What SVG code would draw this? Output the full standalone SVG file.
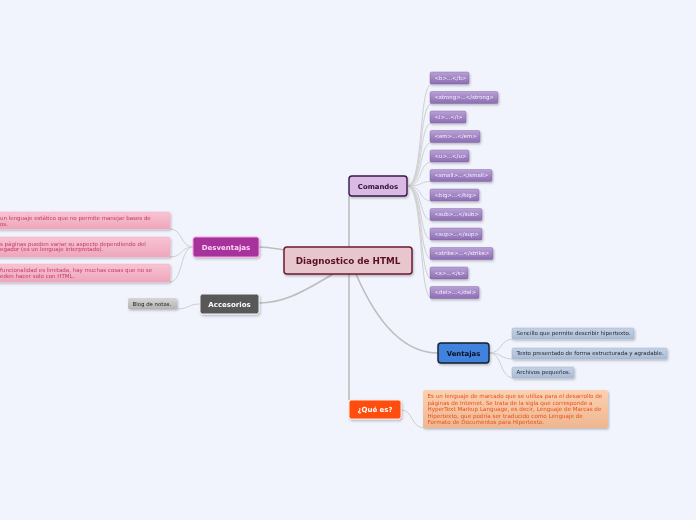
<svg xmlns="http://www.w3.org/2000/svg" width="696" height="520" viewBox="0 0 696 520">
<defs>
<style>
.bg{fill:#f2f4fd}
.con{fill:none;stroke:#bdbdbd;stroke-width:1.6}
.sub{fill:none;stroke:#cfcfcf;stroke-width:1}
.t{font-family:"DejaVu Sans",Verdana,sans-serif}
.b{font-weight:bold}
.tag{fill:url(#gTag);stroke:#7a5c9e;stroke-width:0.4}
.tagt{font-family:"DejaVu Sans",Verdana,sans-serif;font-size:5.4px;fill:#f6f0ff}
.pink{fill:url(#gPink);stroke:#f4a8bd;stroke-width:0.5}
.pinkt{font-family:"DejaVu Sans",Verdana,sans-serif;font-size:5.5px;fill:#c4386a}
.blue{fill:url(#gBlue);stroke:#9fb2cc;stroke-width:0.5}
.bluet{font-family:"DejaVu Sans",Verdana,sans-serif;font-size:5.5px;fill:#2a2a30}
</style>
<linearGradient id="gTag" x1="0" y1="0" x2="0" y2="1"><stop offset="0" stop-color="#b9a0d6"/><stop offset="1" stop-color="#8d6db3"/></linearGradient>
<linearGradient id="gPink" x1="0" y1="0" x2="0" y2="1"><stop offset="0" stop-color="#f7c4d2"/><stop offset="1" stop-color="#eea6bc"/></linearGradient>
<linearGradient id="gBlue" x1="0" y1="0" x2="0" y2="1"><stop offset="0" stop-color="#c4d2e4"/><stop offset="1" stop-color="#a9bcd6"/></linearGradient>
<linearGradient id="gPeach" x1="0" y1="0" x2="0" y2="1"><stop offset="0" stop-color="#fad2b2"/><stop offset="1" stop-color="#efb690"/></linearGradient>
<linearGradient id="gGray" x1="0" y1="0" x2="0" y2="1"><stop offset="0" stop-color="#d6d6d6"/><stop offset="1" stop-color="#b4b4b4"/></linearGradient>
<filter id="sh" x="-10%" y="-20%" width="130%" height="160%"><feDropShadow dx="1" dy="1.5" stdDeviation="0.8" flood-color="#000" flood-opacity="0.25"/></filter>
</defs>
<rect class="bg" x="0" y="0" width="696" height="520"/>

<g id="connectors">
<path class="con" d="M349,196 L349,247"/>
<path class="con" d="M349,274 L349,400"/>
<path class="con" d="M284,250 C272,248 268,247 259,247"/>
<path class="con" d="M333,274 C300,294 282,303 259,303"/>
<path class="con" d="M356,274 C378,325 405,353 438,353"/>
<path class="sub" d="M407,186 C424,186 418,84 432,84"/>
<path class="sub" d="M407,186 C424,186 418,103.5 432,103.5"/>
<path class="sub" d="M407,186 C424,186 418,123 432,123"/>
<path class="sub" d="M407,186 C424,186 418,142.5 432,142.5"/>
<path class="sub" d="M407,186 C424,186 418,162 432,162"/>
<path class="sub" d="M407,186 C424,186 418,181.5 432,181.5"/>
<path class="sub" d="M407,186 C424,186 418,201 432,201"/>
<path class="sub" d="M407,186 C424,186 418,220.5 432,220.5"/>
<path class="sub" d="M407,186 C424,186 418,240 432,240"/>
<path class="sub" d="M407,186 C424,186 418,259.5 432,259.5"/>
<path class="sub" d="M407,186 C424,186 418,279 432,279"/>
<path class="sub" d="M407,186 C424,186 418,298.5 432,298.5"/>
<path class="sub" d="M489,353 C503,353 499,339 514,339"/>
<path class="sub" d="M489,353 C503,353 499,359 514,359"/>
<path class="sub" d="M489,353 C503,353 499,378 514,378"/>
<path class="sub" d="M193,247 C180,247 183,229 170,229"/>
<path class="sub" d="M193,247 C180,247 183,257 170,257"/>
<path class="sub" d="M193,247 C180,247 183,282 170,282"/>
<path class="sub" d="M200,304 C188,304 189,309 177,309"/>
<path class="sub" d="M401,410 C414,410 410,428 425,428"/>
</g>

<g id="central" filter="url(#sh)">
<rect x="284" y="247" width="128" height="27" rx="3" fill="#e8c6cd" stroke="#6e1a30" stroke-width="1.5"/>
<text class="t b" x="348" y="264.2" font-size="8.8" text-anchor="middle" fill="#5a1028">Diagnostico de HTML</text>
</g>

<g id="comandos" filter="url(#sh)">
<rect x="349" y="176" width="58" height="20" rx="3" fill="#dbb9e5" stroke="#3a1848" stroke-width="1.4"/>
<text class="t b" x="378" y="188.6" font-size="6.9" text-anchor="middle" fill="#2a1030">Comandos</text>
</g>

<g id="tags" filter="url(#sh)">
<g id="tag-b"><rect class="tag" x="430" y="72" width="39" height="12" rx="1.5"/><text class="tagt" x="434.5" y="79.8">&lt;b&gt;...&lt;/b&gt;</text></g>
<g id="tag-strong"><rect class="tag" x="430" y="91.5" width="68" height="12" rx="1.5"/><text class="tagt" x="434.5" y="99.3">&lt;strong&gt;...&lt;/strong&gt;</text></g>
<g id="tag-i"><rect class="tag" x="430" y="111" width="36" height="12" rx="1.5"/><text class="tagt" x="434.5" y="118.8">&lt;i&gt;...&lt;/i&gt;</text></g>
<g id="tag-em"><rect class="tag" x="430" y="130.5" width="50" height="12" rx="1.5"/><text class="tagt" x="434.5" y="138.3">&lt;em&gt;...&lt;/em&gt;</text></g>
<g id="tag-u"><rect class="tag" x="430" y="150" width="39" height="12" rx="1.5"/><text class="tagt" x="434.5" y="157.8">&lt;u&gt;...&lt;/u&gt;</text></g>
<g id="tag-small"><rect class="tag" x="430" y="169.5" width="62" height="12" rx="1.5"/><text class="tagt" x="434.5" y="177.3">&lt;small&gt;...&lt;/small&gt;</text></g>
<g id="tag-big"><rect class="tag" x="430" y="189" width="49" height="12" rx="1.5"/><text class="tagt" x="434.5" y="196.8">&lt;big&gt;...&lt;/big&gt;</text></g>
<g id="tag-sub"><rect class="tag" x="430" y="208.5" width="52" height="12" rx="1.5"/><text class="tagt" x="434.5" y="216.3">&lt;sub&gt;...&lt;/sub&gt;</text></g>
<g id="tag-sup"><rect class="tag" x="430" y="228" width="52" height="12" rx="1.5"/><text class="tagt" x="434.5" y="235.8">&lt;sup&gt;...&lt;/sup&gt;</text></g>
<g id="tag-strike"><rect class="tag" x="430" y="247.5" width="63" height="12" rx="1.5"/><text class="tagt" x="434.5" y="255.3">&lt;strike&gt;...&lt;/strike&gt;</text></g>
<g id="tag-s"><rect class="tag" x="430" y="267" width="38" height="12" rx="1.5"/><text class="tagt" x="434.5" y="274.8">&lt;s&gt;...&lt;/s&gt;</text></g>
<g id="tag-del"><rect class="tag" x="430" y="286.5" width="49" height="12" rx="1.5"/><text class="tagt" x="434.5" y="294.3">&lt;del&gt;...&lt;/del&gt;</text></g>
</g>

<g id="ventajas" filter="url(#sh)">
<rect x="438" y="343" width="51" height="20" rx="3" fill="#3f82dc" stroke="#15202e" stroke-width="1.4"/>
<text class="t b" x="463.5" y="355.6" font-size="6.9" text-anchor="middle" fill="#0a1020">Ventajas</text>
</g>

<g id="ventajas-items" filter="url(#sh)">
<g id="v1"><rect class="blue" x="512" y="328" width="122" height="11" rx="1.5"/><text class="bluet" x="516.5" y="335.4">Sencillo que permite describir hipertexto.</text></g>
<g id="v2"><rect class="blue" x="512" y="348" width="155" height="11" rx="1.5"/><text class="bluet" x="516.5" y="355.4">Texto presentado de forma estructurada y agradable.</text></g>
<g id="v3"><rect class="blue" x="512" y="367" width="62" height="11" rx="1.5"/><text class="bluet" x="516.5" y="374.4">Archivos pequeños.</text></g>
</g>

<g id="que-es" filter="url(#sh)">
<rect x="349" y="400" width="52" height="19" rx="2.5" fill="#ff4d0a" stroke="#ffe6dc" stroke-width="1"/>
<text class="t b" x="375" y="412.2" font-size="7" text-anchor="middle" fill="#ffffff">¿Qué es?</text>
</g>

<g id="definicion" filter="url(#sh)">
<rect x="423" y="390" width="185" height="38" rx="2" fill="url(#gPeach)"/>
<text class="t" font-size="5.6" fill="#ea4f18">
<tspan x="427.5" y="398">Es un lenguaje de marcado que se utiliza para el desarrollo de</tspan>
<tspan x="427.5" y="404.5">páginas de Internet. Se trata de la sigla que corresponde a</tspan>
<tspan x="427.5" y="411">HyperText Markup Language, es decir, Lenguaje de Marcas de</tspan>
<tspan x="427.5" y="417.5">Hipertexto, que podría ser traducido como Lenguaje de</tspan>
<tspan x="427.5" y="424">Formato de Documentos para Hipertexto.</tspan>
</text>
</g>

<g id="desventajas" filter="url(#sh)">
<rect x="193" y="237" width="66" height="20" rx="2.5" fill="#a8309c" stroke="#f2a6e2" stroke-width="1"/>
<text class="t b" x="226" y="249.6" font-size="7" text-anchor="middle" fill="#fbd6f2">Desventajas</text>
</g>

<g id="desventajas-items" filter="url(#sh)">
<g id="d1"><rect class="pink" x="-6" y="212" width="176" height="17" rx="2"/><text class="pinkt"><tspan x="0" y="219.8">un lenguaje estático que no permite manejar bases de</tspan><tspan x="0" y="225.8">os.</tspan></text></g>
<g id="d2"><rect class="pink" x="-6" y="237" width="176" height="20" rx="2"/><text class="pinkt"><tspan x="0" y="245.6">s páginas pueden variar su aspecto dependiendo del</tspan><tspan x="0" y="251.3">egador (es un lenguaje interpretado).</tspan></text></g>
<g id="d3"><rect class="pink" x="-6" y="264" width="176" height="18" rx="2"/><text class="pinkt"><tspan x="0" y="271.8">funcionalidad es limitada, hay muchas cosas que no se</tspan><tspan x="0" y="277.6">eden hacer solo con HTML.</tspan></text></g>
</g>

<g id="accesorios" filter="url(#sh)">
<rect x="200" y="294" width="59" height="20" rx="2.5" fill="#585858" stroke="#f4f4f4" stroke-width="1"/>
<text class="t b" x="229.5" y="306.6" font-size="7" text-anchor="middle" fill="#ffffff">Accesorios</text>
</g>

<g id="blog" filter="url(#sh)">
<rect x="128" y="298" width="49" height="11" rx="1.5" fill="url(#gGray)"/>
<text class="t" x="132.5" y="305.5" font-size="5.4" fill="#222">Blog de notas.</text>
</g>
</svg>
